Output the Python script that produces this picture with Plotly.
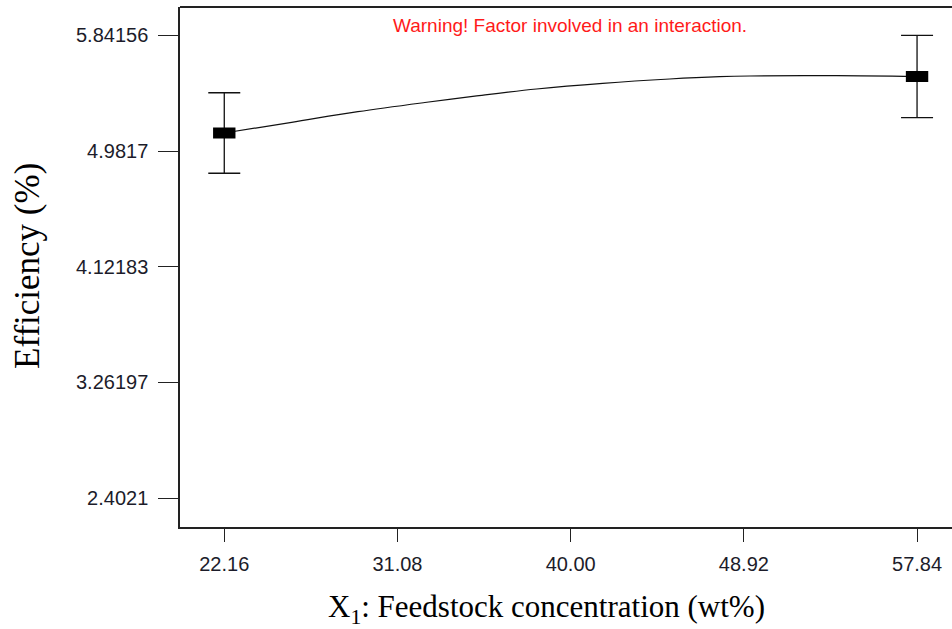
import plotly.graph_objects as go

# Design points of factor X1 with predicted efficiency and 95% CI half-width
x_points = [22.16, 57.84]
y_points = [5.1155, 5.5354]
ci_half = [0.299, 0.305]

# Model prediction curve across the factor range
x_curve = [22.16, 25.63, 29.04, 32.49, 35.06, 38.24, 41.65, 45.10, 47.67, 49.22, 53.70, 57.84]
y_curve = [5.1155, 5.1950, 5.2738, 5.3420, 5.3890, 5.4425, 5.4848, 5.5168, 5.5339, 5.5391, 5.5413, 5.5354]

x_ticks = [22.16, 31.08, 40.00, 48.92, 57.84]
x_ticklabels = ["22.16", "31.08", "40.00", "48.92", "57.84"]
y_ticks = [2.4021, 3.26197, 4.12183, 4.9817, 5.84156]
y_ticklabels = ["2.4021", "3.26197", "4.12183", "4.9817", "5.84156"]

W, H = 952, 629
ML, MR, MT, MB = 180, 0, 7, 102

fig = go.Figure()

fig.add_trace(go.Scatter(
    x=x_curve, y=y_curve, mode="lines",
    line=dict(color="#111111", width=1.2, shape="spline", smoothing=1.0),
    hoverinfo="skip", showlegend=False,
))

fig.add_trace(go.Scatter(
    x=x_points, y=y_points, mode="markers",
    marker=dict(symbol="line-ew", size=16, color="#000000",
                line=dict(color="#000000", width=11)),
    error_y=dict(type="data", array=ci_half, visible=True,
                 color="#111111", thickness=1.3, width=16),
    showlegend=False,
))

tick_font = dict(family="Liberation Sans, Arial, sans-serif", size=20, color="#1c1c2a")

fig.update_xaxes(
    range=[19.88, 59.64], tickmode="array", tickvals=x_ticks, ticktext=x_ticklabels,
    ticks="outside", ticklen=13, tickwidth=1.2, tickcolor="#222222",
    showline=True, linecolor="#222222", linewidth=1.5, mirror=False,
    showgrid=False, zeroline=False, tickfont=tick_font, ticklabelstandoff=5,
)
fig.update_yaxes(
    range=[2.1873, 6.0519], tickmode="array", tickvals=y_ticks, ticktext=y_ticklabels,
    ticks="outside", ticklen=20, tickwidth=1.2, tickcolor="#222222",
    showline=True, linecolor="#222222", linewidth=1.5, mirror=False,
    showgrid=False, zeroline=False, tickfont=tick_font, ticklabelstandoff=6,
)

px = lambda x: (x - ML) / (W - ML - MR)
py = lambda y: (H - MB - y) / (H - MT - MB)

fig.update_layout(
    width=W, height=H,
    margin=dict(l=ML, r=MR, t=MT, b=MB, pad=0),
    plot_bgcolor="white", paper_bgcolor="white",
    shapes=[dict(type="line", xref="paper", yref="paper", x0=0, x1=1, y0=1, y1=1,
                 line=dict(color="#222222", width=2))],
    annotations=[
        dict(text="Warning! Factor involved in an interaction.",
             xref="paper", yref="paper", x=px(570), y=py(26),
             xanchor="center", yanchor="middle", showarrow=False,
             font=dict(family="Liberation Sans, Arial, sans-serif", size=19, color="#ff1a1a")),
        dict(text="X<sub>1</sub>: Feedstock concentration (wt%)",
             xref="paper", yref="paper", x=px(546), y=py(609),
             xanchor="center", yanchor="middle", showarrow=False,
             font=dict(family="Liberation Serif, Times New Roman, serif", size=31, color="#000000")),
        dict(text="Efficiency (%)", textangle=-90,
             xref="paper", yref="paper", x=px(27), y=py(266),
             xanchor="center", yanchor="middle", showarrow=False,
             font=dict(family="Liberation Serif, Times New Roman, serif", size=35, color="#000000")),
    ],
)

fig.write_html("out.html")
